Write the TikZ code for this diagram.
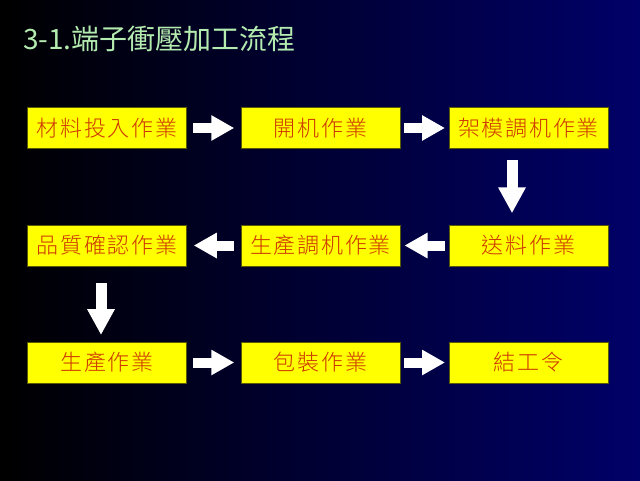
\documentclass[tikz,border=0pt]{standalone}
\usepackage{fontspec}
\usetikzlibrary{arrows.meta,calc}
\newfontfamily\cjk{Noto Sans CJK TC}[UprightFont={* Light}, LetterSpace=8]
\newfontfamily\cjktitle{Noto Sans CJK TC}
\definecolor{boxyellow}{RGB}{255,255,0}
\definecolor{boxedge}{RGB}{90,90,0}
\definecolor{boxtext}{RGB}{205,55,0}
\definecolor{titlegreen}{RGB}{180,235,175}
\definecolor{navybg}{RGB}{0,0,105}
\tikzset{
  stepbox/.style={rectangle, fill=boxyellow, draw=boxedge, line width=0.5pt,
    minimum width=159pt, minimum height=41pt, inner sep=0pt, text=boxtext,
    font=\cjk\fontsize{22}{26}\selectfont},
  blockarrow/.style={white, line width=10pt, -{Triangle[length=23pt,width=24pt]}},
  downarrow/.style={white, line width=11pt, -{Triangle[length=26pt,width=26pt]}},
}
\begin{document}
\begin{tikzpicture}[x=1pt,y=-1pt]
\shade[left color=black, right color=navybg] (0,0) rectangle (640,480);
\useasboundingbox (0,0) rectangle (640,480);
\node[anchor=base west, text=titlegreen, inner sep=0pt, font=\cjktitle\fontsize{28}{32}\selectfont] (title) at (23,49) {3-1.端子衝壓加工流程};
% row 1
\node[stepbox] (a1) at (107,128) {材料投入作業};
\node[stepbox] (a2) at (320.5,128) {開机作業};
\node[stepbox] (a3) at (528.5,128) {架模調机作業};
% row 2
\node[stepbox] (b1) at (107,245.5) {品質確認作業};
\node[stepbox] (b2) at (320.5,245.5) {生產調机作業};
\node[stepbox] (b3) at (528.5,245.5) {送料作業};
% row 3
\node[stepbox] (c1) at (107,362.5) {生產作業};
\node[stepbox] (c2) at (320.5,362.5) {包裝作業};
\node[stepbox] (c3) at (528.5,362.5) {結工令};
% arrows
\coordinate (m1) at ($(a1.east)!0.5!(a2.west)$);
\coordinate (m2) at ($(a2.east)!0.5!(a3.west)$);
\draw[blockarrow] ($(m1)+(-20.5,0)$) -- ($(m1)+(20.5,0)$);
\draw[blockarrow] ($(m2)+(-20.5,0)$) -- ($(m2)+(20.5,0)$);
\coordinate (m3) at ($(a3.south)!0.5!(b3.north)$);
\draw[downarrow] ($(m3)+(-16.5,-26.5)$) -- ($(m3)+(-16.5,26.5)$);
\coordinate (m4) at ($(b3.west)!0.5!(b2.east)$);
\coordinate (m5) at ($(b2.west)!0.5!(b1.east)$);
\draw[blockarrow] ($(m4)+(20,0)$) -- ($(m4)+(-20,0)$);
\draw[blockarrow] ($(m5)+(20,0)$) -- ($(m5)+(-20,0)$);
\coordinate (m6) at ($(b1.south)!0.5!(c1.north)$);
\draw[downarrow] ($(m6)+(-6,-21)$) -- ($(m6)+(-6,31)$);
\coordinate (m7) at ($(c1.east)!0.5!(c2.west)$);
\coordinate (m8) at ($(c2.east)!0.5!(c3.west)$);
\draw[blockarrow] ($(m7)+(-20.5,0)$) -- ($(m7)+(20.5,0)$);
\draw[blockarrow] ($(m8)+(-20.5,0)$) -- ($(m8)+(20.5,0)$);
\end{tikzpicture}
\end{document}
